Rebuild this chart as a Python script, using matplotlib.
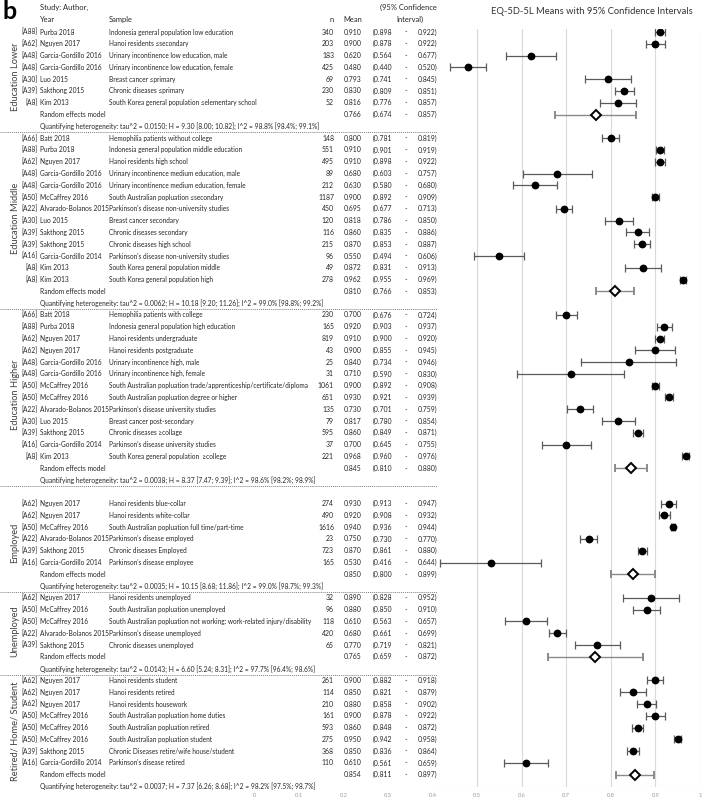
import numpy as np
import matplotlib
matplotlib.use("Agg")
import matplotlib.pyplot as plt
from matplotlib.transforms import blended_transform_factory

plt.rcParams["font.family"] = ["Lato", "DejaVu Sans"]

# group of each study (index into group_labels)
group_labels = ["Education Lower", "Education Middle", "Education Higher",
                "Employed", "Unemployed", "Retired/ Home/ Student"]

group = ([0] * 7 + [1] * 13 + [2] * 13 + [3] * 6 + [4] * 5 + [5] * 8)

ids = ["[A88]", "[A62]", "[A48]", "[A48]", "[A30]", "[A39]", "[A8]",
       "[A66]", "[A88]", "[A62]", "[A48]", "[A48]", "[A50]", "[A22]", "[A30]", "[A39]", "[A39]", "[A16]", "[A8]", "[A8]",
       "[A66]", "[A88]", "[A62]", "[A62]", "[A48]", "[A48]", "[A50]", "[A50]", "[A22]", "[A30]", "[A39]", "[A16]", "[A8]",
       "[A62]", "[A62]", "[A50]", "[A22]", "[A39]", "[A16]",
       "[A62]", "[A50]", "[A50]", "[A22]", "[A39]",
       "[A62]", "[A62]", "[A62]", "[A50]", "[A50]", "[A50]", "[A39]", "[A16]"]

authors = ["Purba 2018", "Nguyen 2017", "Garcia-Gordillo 2016", "Garcia-Gordillo 2016", "Luo 2015",
           "Sakthong 2015", "Kim 2013",
           "Batt 2018", "Purba 2018", "Nguyen 2017", "Garcia-Gordillo 2016", "Garcia-Gordillo 2016",
           "McCaffrey 2016", "Alvarado-Bolanos 2015", "Luo 2015", "Sakthong 2015", "Sakthong 2015",
           "Garcia-Gordillo 2014", "Kim 2013", "Kim 2013",
           "Batt 2018", "Purba 2018", "Nguyen 2017", "Nguyen 2017", "Garcia-Gordillo 2016",
           "Garcia-Gordillo 2016", "McCaffrey 2016", "McCaffrey 2016", "Alvarado-Bolanos 2015", "Luo 2015",
           "Sakthong 2015", "Garcia-Gordillo 2014", "Kim 2013",
           "Nguyen 2017", "Nguyen 2017", "McCaffrey 2016", "Alvarado-Bolanos 2015", "Sakthong 2015",
           "Garcia-Gordillo 2014",
           "Nguyen 2017", "McCaffrey 2016", "McCaffrey 2016", "Alvarado-Bolanos 2015", "Sakthong 2015",
           "Nguyen 2017", "Nguyen 2017", "Nguyen 2017", "McCaffrey 2016", "McCaffrey 2016", "McCaffrey 2016",
           "Sakthong 2015", "Garcia-Gordillo 2014"]

samples = ["Indonesia general population low education",
           "Hanoi residents \u2264secondary",
           "Urinary incontinence low education, male",
           "Urinary incontinence low education, female",
           "Breast cancer \u2264primary",
           "Chronic diseases \u2264primary",
           "South Korea general population \u2264elementary school",
           "Hemophilia patients without college",
           "Indonesia general population middle education",
           "Hanoi residents high school",
           "Urinary incontinence medium education, male",
           "Urinary incontinence medium education, female",
           "South Australian popluation \u2264secondary",
           "Parkinson's disease non-university studies",
           "Breast cancer secondary",
           "Chronic diseases secondary",
           "Chronic diseases high school",
           "Parkinson's disease non-university studies",
           "South Korea general population middle",
           "South Korea general population high",
           "Hemophilia patients with college",
           "Indonesia general population high education",
           "Hanoi residents undergraduate",
           "Hanoi residents postgraduate",
           "Urinary incontinence high, male",
           "Urinary incontinence high, female",
           "South Australian popluation trade/apprenticeship/certificate/diploma",
           "South Australian popluation degree or higher",
           "Parkinson's disease university studies",
           "Breast cancer post-secondary",
           "Chronic diseases \u2265collage",
           "Parkinson's disease university studies",
           "South Korea general population  \u2265college",
           "Hanoi residents blue-collar",
           "Hanoi residents white-collar",
           "South Australian popluation full time/part-time",
           "Parkinson's disease employed",
           "Chronic diseases Employed",
           "Parkinson's disease employee",
           "Hanoi residents unemployed",
           "South Australian popluation unemployed",
           "South Australian popluation not working: work-related injury/disability",
           "Parkinson's disease unemployed",
           "Chronic diseases unemployed",
           "Hanoi residents student",
           "Hanoi residents retired",
           "Hanoi residents housework",
           "South Australian popluation home duties",
           "South Australian popluation retired",
           "South Australian popluation student",
           "Chronic Diseases retire/wife house/student",
           "Parkinson's disease retired"]

n = [340, 203, 183, 425, 69, 230, 52,
     148, 551, 495, 89, 212, 1187, 450, 120, 116, 215, 96, 49, 278,
     230, 165, 819, 43, 25, 31, 1061, 651, 135, 79, 595, 37, 221,
     274, 490, 1616, 23, 723, 165,
     32, 96, 118, 420, 65,
     261, 114, 210, 161, 593, 275, 368, 110]

mean = [0.910, 0.900, 0.620, 0.480, 0.793, 0.830, 0.816,
        0.800, 0.910, 0.910, 0.680, 0.630, 0.900, 0.695, 0.818, 0.860, 0.870, 0.550, 0.872, 0.962,
        0.700, 0.920, 0.910, 0.900, 0.840, 0.710, 0.900, 0.930, 0.730, 0.817, 0.860, 0.700, 0.968,
        0.930, 0.920, 0.940, 0.750, 0.870, 0.530,
        0.890, 0.880, 0.610, 0.680, 0.770,
        0.900, 0.850, 0.880, 0.900, 0.860, 0.950, 0.850, 0.610]

lo = [0.898, 0.878, 0.564, 0.440, 0.741, 0.809, 0.776,
      0.781, 0.901, 0.898, 0.603, 0.580, 0.892, 0.677, 0.786, 0.835, 0.853, 0.494, 0.831, 0.955,
      0.676, 0.903, 0.900, 0.855, 0.734, 0.590, 0.892, 0.921, 0.701, 0.780, 0.849, 0.645, 0.960,
      0.913, 0.908, 0.936, 0.730, 0.861, 0.416,
      0.828, 0.850, 0.563, 0.661, 0.719,
      0.882, 0.821, 0.858, 0.878, 0.848, 0.942, 0.836, 0.561]

hi = [0.922, 0.922, 0.677, 0.520, 0.845, 0.851, 0.857,
      0.819, 0.919, 0.922, 0.757, 0.680, 0.909, 0.713, 0.850, 0.886, 0.887, 0.606, 0.913, 0.969,
      0.724, 0.937, 0.920, 0.945, 0.946, 0.830, 0.908, 0.939, 0.759, 0.854, 0.871, 0.755, 0.976,
      0.947, 0.932, 0.944, 0.770, 0.880, 0.644,
      0.952, 0.910, 0.657, 0.699, 0.821,
      0.918, 0.879, 0.902, 0.922, 0.872, 0.958, 0.864, 0.659]

# random effects model per group
re_mean = [0.766, 0.810, 0.845, 0.850, 0.765, 0.854]
re_lo = [0.674, 0.766, 0.810, 0.800, 0.659, 0.811]
re_hi = [0.857, 0.853, 0.880, 0.899, 0.872, 0.897]

het_text = [
    "tau^2 = 0.0150; H = 9.30 [8.00; 10.82]; I^2 = 98.8% [98.4%; 99.1%]",
    "tau^2 = 0.0062; H = 10.18 [9.20; 11.26]; I^2 = 99.0% [98.8%; 99.2%]",
    "tau^2 = 0.0038; H = 8.37 [7.47; 9.39]; I^2 = 98.6% [98.2%; 98.9%]",
    "tau^2 = 0.0035; H = 10.15 [8.68; 11.86]; I^2 = 99.0% [98.7%; 99.3%]",
    "tau^2 = 0.0143; H = 6.60 [5.24; 8.31]; I^2 = 97.7% [96.4%; 98.6%]",
    "tau^2 = 0.0037; H = 7.37 [6.26; 8.68]; I^2 = 98.2% [97.5%; 98.7%]",
]

xticks = [0, 0.1, 0.2, 0.3, 0.4, 0.5, 0.6, 0.7, 0.8, 0.9, 1]
xtick_labels = ["0", "0.1", "0.2", "0.3", "0.4", "0.5", "0.6", "0.7", "0.8", "0.9", "1"]

title = "EQ-5D-5L Means with 95% Confidence Intervals"

# ---- row layout (one slot per line) ----
W, H = 708, 808
gap_before = [0, 0, 0, 1, 0, 0]
study_y, re_y, het_y = [], [], []
s = 0
for g in range(len(group_labels)):
    s += gap_before[g]
    k = group.count(g)
    study_y += list(range(s, s + k))
    re_y.append(s + k)
    het_y.append(s + k + 1)
    s += k + 2

fig = plt.figure(figsize=(W / 100, H / 100), dpi=100)
renderer = fig.canvas.get_renderer()


def fit_size(sample, width_px, start=6.0):
    # font size that makes `sample` about width_px wide (a few passes, small sizes are hinted)
    size = start
    for _ in range(4):
        t = fig.text(0, 0, sample, fontsize=size)
        w = t.get_window_extent(renderer).width
        t.remove()
        size *= width_px / w
    return size


fs_title = fit_size(title, 202, 9)
fs_head = fit_size("Study: Author,", 48)
fs_t = fit_size("South Korea general population \u2264elementary school", 149)
fs_a = fit_size("Garcia-Gordillo 2016", 62)
fs_n = fit_size("0.910", 17.5)
fs_het = fit_size("Quantifying heterogeneity: " + het_text[0], 276)
fs_grp = fit_size("Education Lower", 68)
fs_tick = fs_n * 0.85

top_slot, bot_slot = -0.3, 64.04
ax = fig.add_axes([254.3 / W, 1 - 787 / H, (700 - 254.3) / W, (787 - 28.5) / H])
ax.set_xlim(0, 1)
ax.set_ylim(bot_slot, top_slot)
for sp in ax.spines.values():
    sp.set_visible(False)
ax.set_yticks([])
ax.set_xticks(xticks)
ax.set_xticklabels(xtick_labels, fontsize=fs_tick, color="#9a9a9a")
ax.tick_params(axis="x", length=0, pad=4)

ax.vlines([0.5, 0.6, 0.7, 0.8, 0.9, 1.0], top_slot, bot_slot, color="#d9d9d9", lw=0.8, zorder=0)
ax.hlines(bot_slot, 0.4, 1.0, color="#d9d9d9", lw=0.8, zorder=0)

# study estimates
ax.errorbar(mean, study_y, xerr=[np.subtract(mean, lo), np.subtract(hi, mean)],
            fmt="o", color="black", ms=4.6, ecolor="#5a5a5a", elinewidth=0.9,
            capsize=3.2, capthick=0.9, zorder=3)
# random effects models
ax.errorbar(re_mean, re_y, xerr=[np.subtract(re_mean, re_lo), np.subtract(re_hi, re_mean)],
            fmt="D", mfc="white", mec="black", mew=1.4, ms=5, ecolor="#8a8a8a",
            elinewidth=1.0, capsize=3.2, capthick=0.9, zorder=3)

fig.text(592 / W, 1 - 11 / H, title, ha="center", va="center", fontsize=fs_title, color="#333333")

# ---- table text ----
tr = blended_transform_factory(fig.transFigure, ax.transData)
txt = "#262626"


def px(x):
    return x / W


def row_numbers(y, m, l, h):
    ax.text(px(362), y, f"{m:.3f}", transform=tr, ha="right", va="center", fontsize=fs_n, color=txt)
    ax.text(px(373), y, f"({l:.3f}", transform=tr, ha="left", va="center", fontsize=fs_n, color=txt)
    ax.text(px(405.5), y, "-", transform=tr, ha="center", va="center", fontsize=fs_n, color=txt)
    ax.text(px(437), y, f"{h:.3f})", transform=tr, ha="right", va="center", fontsize=fs_n, color=txt)


for i, y in enumerate(study_y):
    ax.text(px(38), y, ids[i], transform=tr, ha="right", va="center", fontsize=fs_a, color=txt)
    ax.text(px(40), y, authors[i], transform=tr, ha="left", va="center", fontsize=fs_a, color=txt)
    ax.text(px(109), y, samples[i], transform=tr, ha="left", va="center", fontsize=fs_t, color=txt)
    ax.text(px(334), y, str(n[i]), transform=tr, ha="right", va="center", fontsize=fs_n, color=txt)
    row_numbers(y, mean[i], lo[i], hi[i])

for g in range(len(group_labels)):
    y = re_y[g]
    ax.text(px(40), y, "Random effects model", transform=tr, ha="left", va="center", fontsize=fs_a, color=txt)
    row_numbers(y, re_mean[g], re_lo[g], re_hi[g])
    ax.text(px(40), het_y[g], "Quantifying heterogeneity: " + het_text[g], transform=tr,
            ha="left", va="center", fontsize=fs_het, color=txt)
    first = study_y[group.index(g)]
    ax.text(px(15), (first + re_y[g]) / 2 + 0.3, group_labels[g], transform=tr, rotation=90,
            ha="center", va="center", fontsize=fs_grp, color="#404040")
    if g < len(group_labels) - 1:
        ax.plot([0, px(437)], [het_y[g] + 0.5] * 2, transform=tr, ls=(0, (1, 1)),
                color="#7f7f7f", lw=0.7, clip_on=False)

# header
hy1, hy2 = -2.1, -1.1
ax.text(px(2), -1.75, "b", transform=tr, ha="left", va="center", fontsize=18, fontweight="bold",
        color="black")
ax.text(px(40), hy1, "Study: Author,", transform=tr, ha="left", va="center", fontsize=fs_head, color=txt)
ax.text(px(40), hy2, "Year", transform=tr, ha="left", va="center", fontsize=fs_head, color=txt)
ax.text(px(109), hy2, "Sample", transform=tr, ha="left", va="center", fontsize=fs_head, color=txt)
ax.text(px(334), hy2, "n", transform=tr, ha="right", va="center", fontsize=fs_head, color=txt)
ax.text(px(362), hy2, "Mean", transform=tr, ha="right", va="center", fontsize=fs_head, color=txt)
ax.text(px(437), hy1, "(95% Confidence", transform=tr, ha="right", va="center", fontsize=fs_head, color=txt)
ax.text(px(410), hy2, "Interval)", transform=tr, ha="center", va="center", fontsize=fs_head, color=txt)

fig.savefig("out.png", dpi=100)
